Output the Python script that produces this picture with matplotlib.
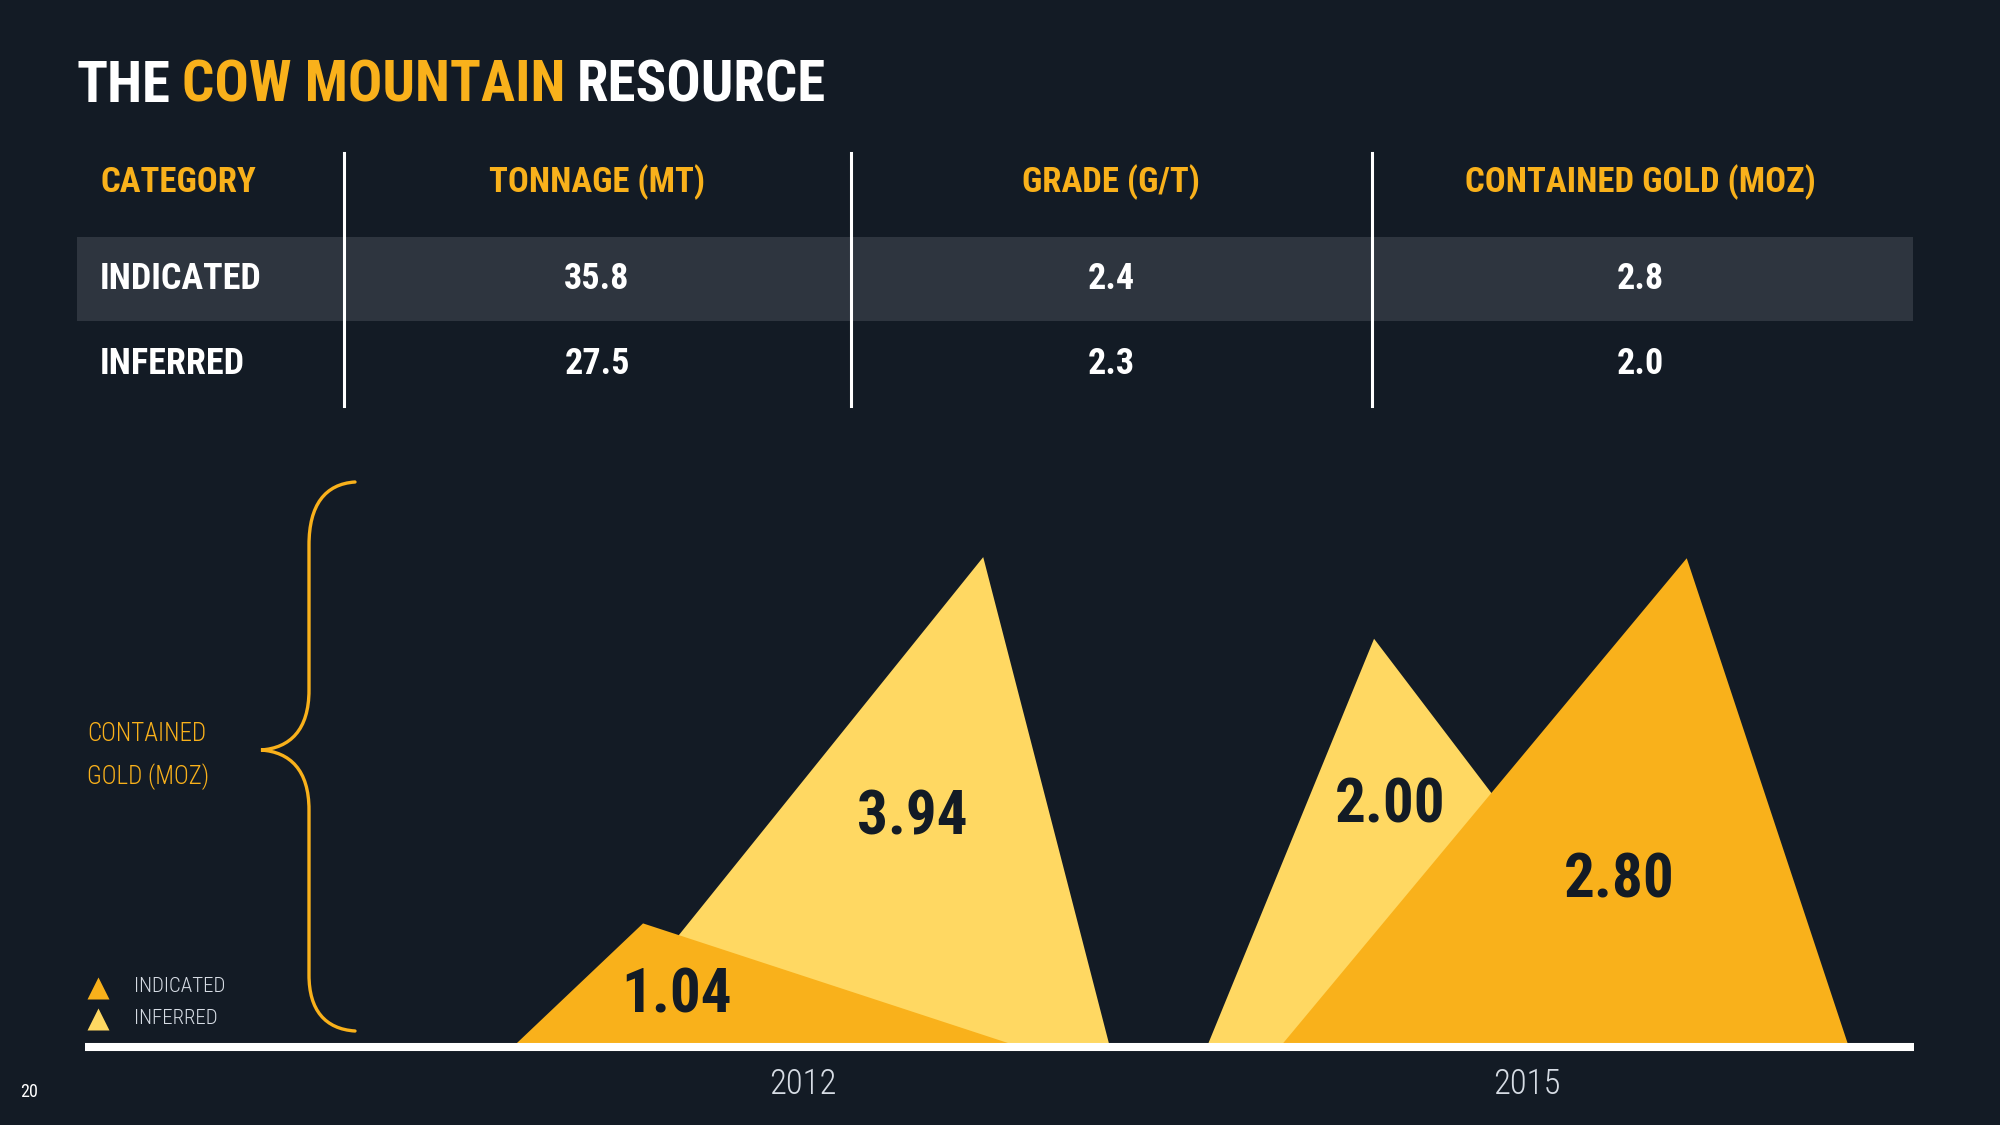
import matplotlib
matplotlib.use("Agg")
import matplotlib.pyplot as plt
from matplotlib import font_manager as fm
from matplotlib.patches import Polygon, Rectangle, PathPatch
from matplotlib.path import Path

# ---------------- data ----------------
title_parts = ["THE", "COW MOUNTAIN", "RESOURCE"]
table_headers = ["CATEGORY", "TONNAGE (MT)", "GRADE (G/T)", "CONTAINED GOLD (MOZ)"]
categories = ["INDICATED", "INFERRED"]
tonnage_mt = [35.8, 27.5]
grade_gt = [2.4, 2.3]
gold_moz = [2.8, 2.0]

years = ["2012", "2015"]
indicated_moz = [1.04, 2.80]
inferred_moz = [3.94, 2.00]
# drawn peak heights of the triangles (chart units)
indicated_peak = [1.09, 4.31]
inferred_peak = [4.32, 3.60]

# ---------------- style ----------------
BG = "#131b25"
ORANGE = "#f9b11b"
YELLOW = "#ffd862"
ROW = "#2e353f"
LIGHT = "#d6dce4"
W, H = 2000, 1125

names = {f.name for f in fm.fontManager.ttflist}
COND = next((n for n in ["Roboto Condensed", "Liberation Sans Narrow", "Open Sans Condensed"]
             if n in names), "DejaVu Sans")
THIN = "light"

fig = plt.figure(figsize=(20, 11.25), dpi=100, facecolor=BG)

# overlay in pixel coordinates for layout / decorations
bg = fig.add_axes([0, 0, 1, 1])
bg.set_xlim(0, W)
bg.set_ylim(H, 0)
bg.axis("off")
bg.set_facecolor(BG)

# ---------------- title ----------------
TS = 41
t1 = bg.text(77, 102, title_parts[0], color="white", fontsize=TS, fontweight="bold",
             family=COND, ha="left", va="baseline")
t2 = bg.annotate(title_parts[1], xy=(1, 0), xycoords=t1, xytext=(8, 0),
                 textcoords="offset points", color=ORANGE, fontsize=TS,
                 fontweight="bold", family=COND, ha="left", va="bottom")
t3 = bg.annotate(title_parts[2], xy=(1, 0), xycoords=t2, xytext=(8, 0),
                 textcoords="offset points", color="white", fontsize=TS,
                 fontweight="bold", family=COND, ha="left", va="bottom")

# ---------------- table ----------------
bg.add_patch(Rectangle((77, 237), 1913 - 77, 84, facecolor=ROW, edgecolor="none", zorder=1))
for xv in [344, 851, 1372]:
    bg.plot([xv, xv], [153, 406], color="white", lw=2.2, zorder=2)

col_x = [100, 597, 1111, 1640]
col_ha = ["left", "center", "center", "center"]
header_y = 182
row_y = [279, 364]
for x, ha, h in zip(col_x, col_ha, table_headers):
    bg.text(x, header_y, h, color=ORANGE, fontsize=25, fontweight="bold", family=COND,
            ha=ha, va="center", zorder=3)
for i, cat in enumerate(categories):
    vals = [cat, f"{tonnage_mt[i]:.1f}", f"{grade_gt[i]:.1f}", f"{gold_moz[i]:.1f}"]
    for x, ha, v in zip(col_x, col_ha, vals):
        bg.text(x, row_y[i], v, color="white", fontsize=26, fontweight="bold", family=COND,
                ha=ha, va="center", zorder=3)

# ---------------- brace + side label ----------------
verts = [(355, 482), (325, 484), (309, 505), (309, 545),
         (309, 690),
         (309, 730), (290, 748), (261, 750),
         (290, 752), (309, 770), (309, 810),
         (309, 975),
         (309, 1010), (325, 1029), (355, 1031)]
codes = [Path.MOVETO, Path.CURVE4, Path.CURVE4, Path.CURVE4,
         Path.LINETO,
         Path.CURVE4, Path.CURVE4, Path.CURVE4,
         Path.CURVE4, Path.CURVE4, Path.CURVE4,
         Path.LINETO,
         Path.CURVE4, Path.CURVE4, Path.CURVE4]
bg.add_patch(PathPatch(Path(verts, codes), facecolor="none", edgecolor=ORANGE, lw=2.4,
                       capstyle="round"))
bg.text(87, 734, "CONTAINED", color=ORANGE, fontsize=18, fontweight=THIN, family=COND,
        ha="left", va="center")
bg.text(87, 777, "GOLD (MOZ)", color=ORANGE, fontsize=18, fontweight=THIN, family=COND,
        ha="left", va="center")

# legend
bg.plot([98], [988], marker="^", ms=16, color=ORANGE, mec="none", ls="none")
bg.plot([98], [1019], marker="^", ms=16, color=YELLOW, mec="none", ls="none")
bg.text(134, 986, "INDICATED", color=LIGHT, fontsize=15, fontweight=THIN, family=COND,
        ha="left", va="center")
bg.text(134, 1018, "INFERRED", color=LIGHT, fontsize=15, fontweight=THIN, family=COND,
        ha="left", va="center")

# page number
bg.text(29, 1092, "20", color="white", fontsize=13, family=COND, ha="center", va="center")

# ---------------- triangle chart ----------------
ax = fig.add_axes([85 / W, (H - 1047) / H, (1914 - 85) / W, (1047 - 480) / H])
ax.set_facecolor("none")
ax.set_xlim(-0.992, 1.535)
ax.set_ylim(0, 5)
ax.axis("off")

xpos = list(range(len(years)))
# triangle shape: (left base, apex, right base) offsets from year position
ind_shape = [(-0.401, -0.221, 0.300), (-0.341, 0.221, 0.445)]
inf_shape = [(-0.296, 0.249, 0.424), (-0.442, -0.211, 0.218)]
ind_lab = [(-0.174, 0.45), (0.128, 1.47)]
inf_lab = [(0.151, 2.02), (-0.189, 2.13)]

for i, x in enumerate(xpos):
    l, a, r = inf_shape[i]
    ax.add_patch(Polygon([(x + l, 0), (x + a, inferred_peak[i]), (x + r, 0)],
                         closed=True, facecolor=YELLOW, edgecolor="none", zorder=1))
    l, a, r = ind_shape[i]
    ax.add_patch(Polygon([(x + l, 0), (x + a, indicated_peak[i]), (x + r, 0)],
                         closed=True, facecolor=ORANGE, edgecolor="none", zorder=2))
    dx, y = inf_lab[i]
    ax.text(x + dx, y, f"{inferred_moz[i]:.2f}", color=BG, fontsize=44, fontweight="bold",
            family=COND, ha="center", va="center", zorder=4)
    dx, y = ind_lab[i]
    ax.text(x + dx, y, f"{indicated_moz[i]:.2f}", color=BG, fontsize=44, fontweight="bold",
            family=COND, ha="center", va="center", zorder=4)
    ax.text(x, -0.33, years[i], color=LIGHT, fontsize=25, fontweight=THIN, family=COND,
            ha="center", va="center", clip_on=False)

ax.axhline(0, color="white", lw=5.8, zorder=3, solid_capstyle="butt", clip_on=False)

fig.savefig("out.png", dpi=100, facecolor=BG)
